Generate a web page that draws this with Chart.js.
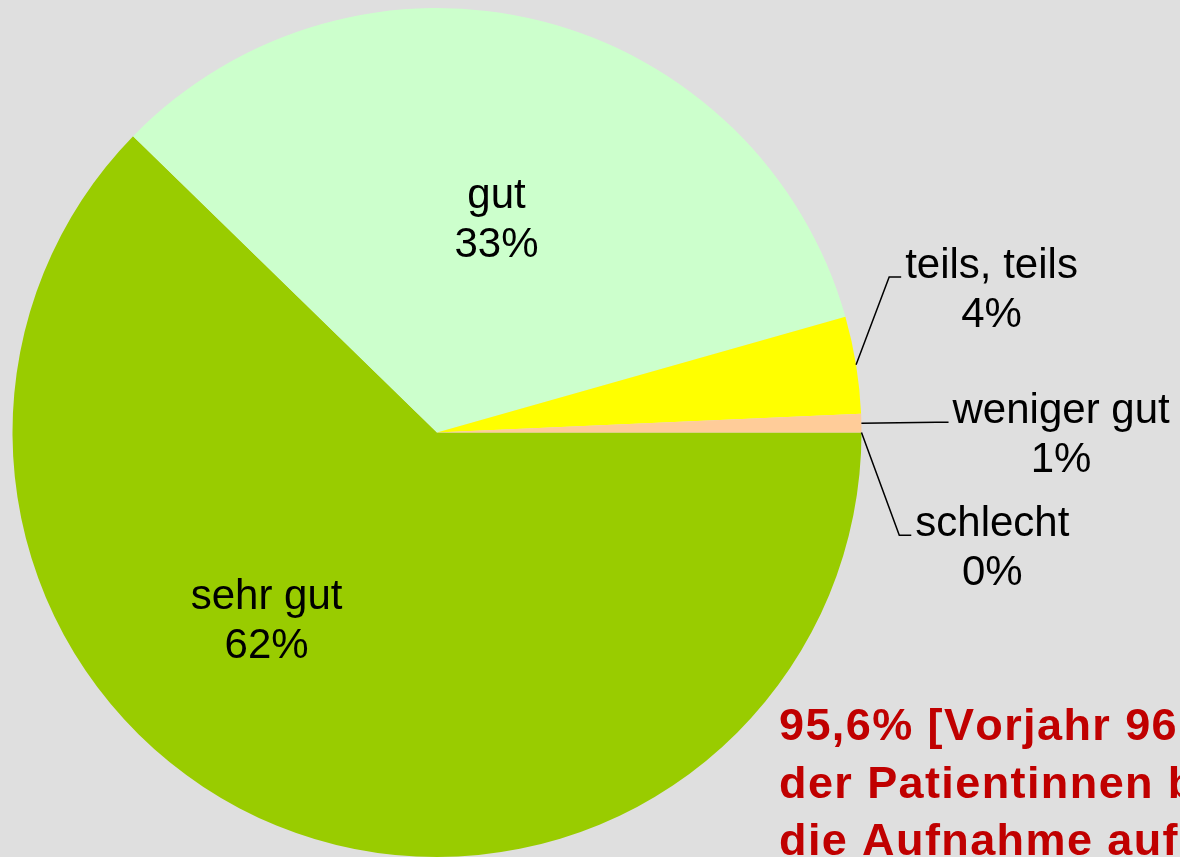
<!DOCTYPE html>
<html>
<head>
<meta charset="utf-8">
<script src="https://cdn.jsdelivr.net/npm/chart.js@4.4.1/dist/chart.umd.min.js"></script>
<style>
  html, body { margin: 0; padding: 0; background: #DFDFDF; overflow: hidden; }
  #wrap { position: relative; width: 1180px; height: 857px; }
</style>
</head>
<body>
<div id="wrap"><canvas id="c"></canvas></div>
<script>
// ---- data ----
const categories = ['sehr gut', 'gut', 'teils, teils', 'weniger gut', 'schlecht'];
const shares = [62.3, 33.3, 3.7, 0.7, 0.0];
const shareLabels = ['62%', '33%', '4%', '1%', '0%'];
const noteLines = ['95,6% [Vorjahr 96', 'der Patientinnen b', 'die Aufnahme auf'];

// ---- styles ----
const sliceColors = ['#99CC00', '#CCFFCC', '#FFFF00', '#FFCC99', '#FF9900'];
// inside labels: polar placement relative to pie centre (deg, fraction of radius)
// outside labels: elbow offset from slice mid-point on the rim (fraction of radius) + horizontal tick length
const labelPlacement = [
  { inside: true, angle: 132.0, r: 0.60 },
  { inside: true, angle: -74.3, r: 0.518 },
  { inside: false, ex: 0.078, ey: -0.207, h: 12 },
  { inside: false, ex: 0.177, ey: -0.002, h: 12 },
  { inside: false, ex: 0.089, ey: 0.242, h: 12 }
];

const FONT = '42px "Liberation Sans", Arial, sans-serif';
const LINE_H = 49;

function drawSpaced(ctx, text, x, y, spacing) {
  let cx = x;
  for (const ch of text) {
    ctx.fillText(ch, cx, y);
    cx += ctx.measureText(ch).width + spacing;
  }
}

const labelPlugin = {
  id: 'sliceLabels',
  afterDraw(chart) {
    const ctx = chart.ctx;
    const meta = chart.getDatasetMeta(0);
    ctx.save();
    ctx.font = FONT;
    ctx.fillStyle = '#000';
    ctx.strokeStyle = '#000';
    ctx.lineWidth = 1.5;
    meta.data.forEach((arc, i) => {
      const p = arc.getProps(['x', 'y', 'startAngle', 'endAngle', 'outerRadius'], true);
      const R = p.outerRadius;
      const pl = labelPlacement[i];
      const l1 = categories[i], l2 = shareLabels[i];
      if (pl.inside) {
        const a = pl.angle * Math.PI / 180;
        const cx = p.x + Math.cos(a) * R * pl.r;
        const cy = p.y + Math.sin(a) * R * pl.r;
        ctx.textAlign = 'center';
        ctx.textBaseline = 'middle';
        ctx.fillText(l1, cx, cy - LINE_H / 2);
        ctx.fillText(l2, cx, cy + LINE_H / 2);
      } else {
        const mid = (p.startAngle + p.endAngle) / 2;
        const ax = p.x + Math.cos(mid) * R;
        const ay = p.y + Math.sin(mid) * R;
        const exx = ax + pl.ex * R;
        const eyy = ay + pl.ey * R;
        ctx.beginPath();
        ctx.moveTo(ax, ay);
        ctx.lineTo(exx, eyy);
        ctx.lineTo(exx + pl.h, eyy);
        ctx.stroke();
        const left = exx + pl.h + 4;
        const w = ctx.measureText(l1).width;
        ctx.textAlign = 'center';
        ctx.textBaseline = 'alphabetic';
        ctx.fillText(l1, left + w / 2, eyy + 1);
        ctx.fillText(l2, left + w / 2, eyy + 1 + LINE_H);
      }
    });
    // note text
    ctx.font = 'bold 45px "Liberation Sans", Arial, sans-serif';
    ctx.fillStyle = '#C00000';
    ctx.textAlign = 'left';
    ctx.textBaseline = 'alphabetic';
    const nx = chart.chartArea.left + 767;
    noteLines.forEach((t, k) => {
      drawSpaced(ctx, t, nx, 740 + k * 57.5, 1.4);
    });
    ctx.restore();
  }
};

new Chart(document.getElementById('c'), {
  type: 'pie',
  data: {
    labels: categories,
    datasets: [{
      data: shares,
      backgroundColor: sliceColors,
      borderWidth: 0
    }]
  },
  options: {
    responsive: true,
    maintainAspectRatio: false,
    animation: false,
    rotation: 90,
    layout: { padding: { left: 12, top: 8, right: 318, bottom: 0 } },
    plugins: {
      legend: { display: false },
      tooltip: { enabled: false }
    }
  },
  plugins: [labelPlugin]
});
</script>
</body>
</html>
